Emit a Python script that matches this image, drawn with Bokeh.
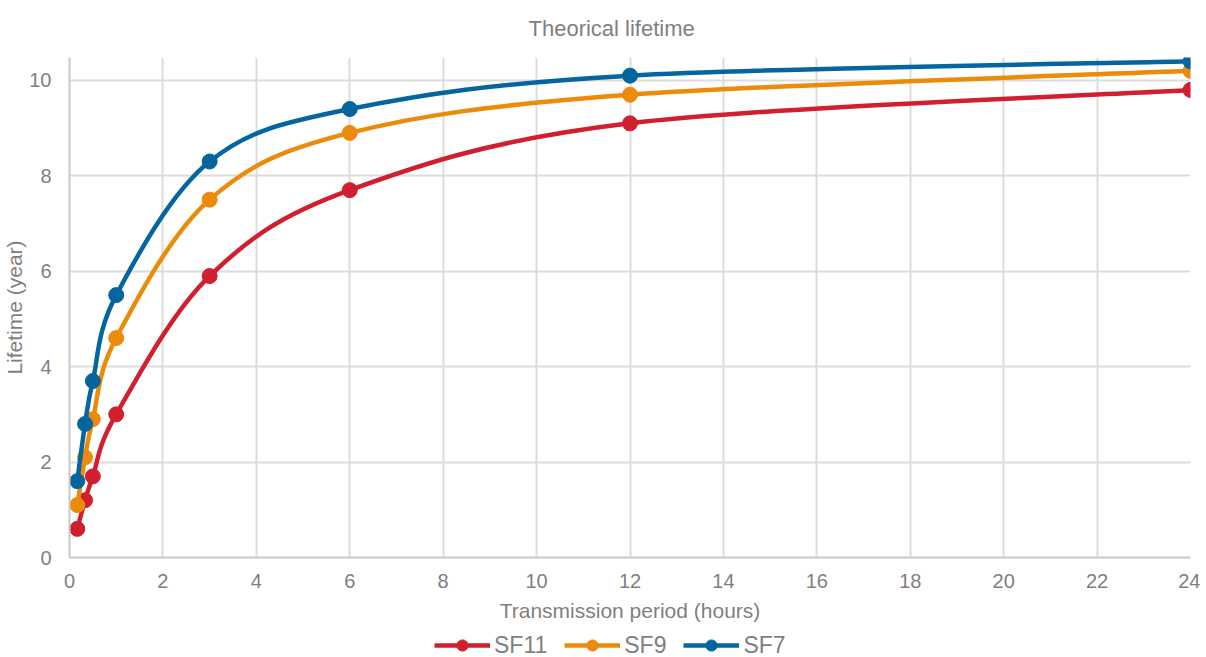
from bokeh.plotting import figure
from bokeh.layouts import column
from bokeh.models import Range1d, Legend, LegendItem, ColumnDataSource, FixedTicker
from bokeh.embed import file_html
from bokeh.resources import INLINE

hours = [1/6, 1/3, 0.5, 1, 3, 6, 12, 24]
sf11 = [0.6, 1.2, 1.7, 3.0, 5.9, 7.7, 9.1, 9.8]
sf9 = [1.1, 2.1, 2.9, 4.6, 7.5, 8.9, 9.7, 10.2]
sf7 = [1.6, 2.8, 3.7, 5.5, 8.3, 9.4, 10.1, 10.4]
names = ["SF11", "SF9", "SF7"]
colors = ["#d01f2e", "#ec8a0a", "#05659f"]
x_ticks = list(range(0, 25, 2))
y_ticks = list(range(0, 11, 2))

FONT = "Liberation Sans"
GREY = "#7f7f7f"

p = figure(frame_width=1121, frame_height=500, output_backend="svg", toolbar_location=None,
           x_range=Range1d(0, 24), y_range=Range1d(0, 10.48),
           title="Theorical lifetime", min_border_left=57, min_border_right=10,
           min_border_top=49, min_border_bottom=74)
p.title.align = "left"
p.title.vertical_align = "top"
p.title.text_font = FONT
p.title.text_font_size = "22px"
p.title.text_font_style = "normal"
p.title.text_color = GREY
p.title.standoff = 30
p.title.offset = 459
p.outline_line_color = None

for ax in (p.xaxis[0], p.yaxis[0]):
    ax.axis_line_color = "#c8c8c8"
    ax.axis_line_width = 2
    ax.major_tick_line_color = None
    ax.minor_tick_line_color = None
    ax.major_label_text_font = FONT
    ax.major_label_text_font_size = "20px"
    ax.major_label_text_color = GREY
    ax.axis_label_text_font = FONT
    ax.axis_label_text_font_size = "21px"
    ax.axis_label_text_font_style = "normal"
    ax.axis_label_text_color = GREY
p.xaxis.ticker = FixedTicker(ticks=x_ticks)
p.yaxis.ticker = FixedTicker(ticks=y_ticks)
p.xaxis.axis_label = "Transmission period (hours)"
p.yaxis.axis_label = "Lifetime (year)"
p.xaxis.major_label_standoff = 10
p.xaxis.axis_label_standoff = 8
p.yaxis.major_label_standoff = 12
p.yaxis.axis_label_standoff = 0
p.grid.grid_line_color = "#dcdcdc"
p.grid.grid_line_width = 2
p.xgrid.ticker = FixedTicker(ticks=x_ticks)
p.ygrid.ticker = FixedTicker(ticks=y_ticks)


def smooth_segments(xs, ys):
    # Catmull-Rom style smoothing -> cubic bezier control points
    n = len(xs)
    x0, y0, x1, y1, cx0, cy0, cx1, cy1 = ([] for _ in range(8))
    for i in range(n - 1):
        xa, ya = xs[i], ys[i]
        xb, yb = xs[i + 1], ys[i + 1]
        xp, yp = (xs[i - 1], ys[i - 1]) if i > 0 else (xa, ya)
        xn, yn = (xs[i + 2], ys[i + 2]) if i + 2 < n else (xb, yb)
        x0.append(xa); y0.append(ya); x1.append(xb); y1.append(yb)
        cx0.append(xa + (xb - xp) / 6); cy0.append(ya + (yb - yp) / 6)
        cx1.append(xb - (xn - xa) / 6); cy1.append(yb - (yn - ya) / 6)
    return dict(x0=x0, y0=y0, x1=x1, y1=y1, cx0=cx0, cy0=cy0, cx1=cx1, cy1=cy1)


# legend strip underneath the chart (its renderers sit outside its visible ranges)
lg = figure(width=1190, height=28, output_backend="svg", toolbar_location=None,
            min_border=0, x_axis_type=None, y_axis_type=None,
            x_range=Range1d(-100, -99), y_range=Range1d(-100, -99))
lg.grid.visible = False
lg.outline_line_color = None

items = []
for name, ys, c in zip(names, [sf11, sf9, sf7], colors):
    src = ColumnDataSource(smooth_segments(hours, ys))
    p.bezier(x0="x0", y0="y0", x1="x1", y1="y1", cx0="cx0", cy0="cy0",
             cx1="cx1", cy1="cy1", source=src, line_color=c, line_width=4.5)
    p.scatter(hours, ys, size=15, fill_color=c, line_color=c)
    l_line = lg.line(hours, ys, line_color=c, line_width=4.5)
    l_dot = lg.scatter(hours, ys, size=13, fill_color=c, line_color=c)
    items.append(LegendItem(label=name, renderers=[l_line, l_dot]))

legend = Legend(items=items, orientation="horizontal", location=(365, 0))
legend.label_text_font = FONT
legend.label_text_font_size = "23px"
legend.label_text_color = GREY
legend.glyph_width = 56
legend.glyph_height = 28
legend.label_standoff = 4
legend.spacing = 17
legend.padding = 0
legend.margin = 0
legend.border_line_color = None
legend.background_fill_alpha = 0
lg.add_layout(legend)

open("out.html", "w").write(file_html(column(p, lg, spacing=0), INLINE))
